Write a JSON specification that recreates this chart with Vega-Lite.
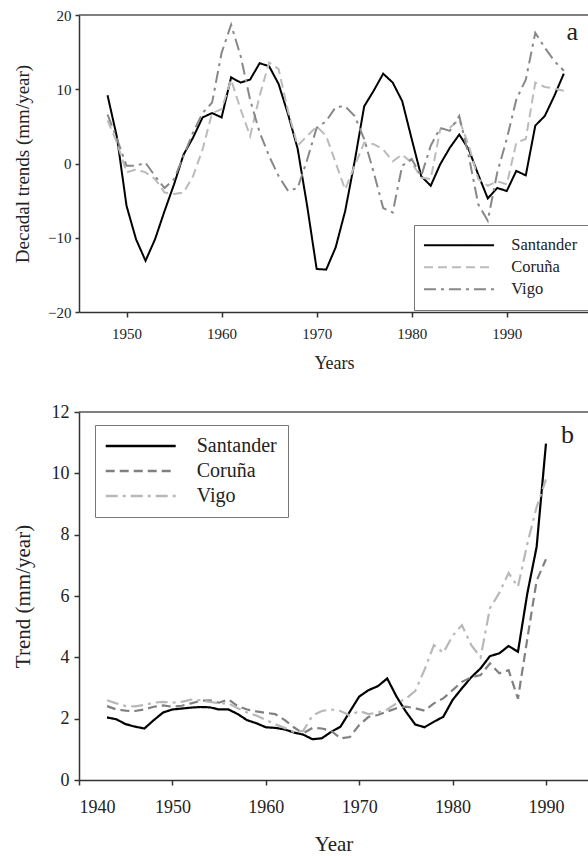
{
  "$schema": "https://vega.github.io/schema/vega-lite/v6.json",
  "background": "white",
  "padding": {"left": 12, "top": 8, "right": 0, "bottom": 0},
  "spacing": 31,
  "config": {
    "view": {"stroke": null},
    "font": "Liberation Serif",
    "style": {"guide-label": {"font": "Liberation Serif"}, "guide-title": {"font": "Liberation Serif"}},
    "axis": {"labelFont": "Liberation Serif", "titleFont": "Liberation Serif", "titleFontWeight": "normal", "labelColor": "#222", "titleColor": "#222", "domainColor": "#333", "tickColor": "#333", "domainWidth": 1.5, "tickWidth": 1.5, "grid": false},
    "legend": {"labelFont": "Liberation Serif", "labelColor": "#222"},
    "text": {"font": "Liberation Serif"}
  },
  "datasets": {
    "decadal": [
      {"year":1948,"station":"Santander","value":9.2},{"year":1949,"station":"Santander","value":3.5},{"year":1950,"station":"Santander","value":-5.7},{"year":1951,"station":"Santander","value":-10.2},{"year":1952,"station":"Santander","value":-13.1},{"year":1953,"station":"Santander","value":-10.2},{"year":1954,"station":"Santander","value":-6.4},{"year":1955,"station":"Santander","value":-2.8},{"year":1956,"station":"Santander","value":1.2},{"year":1957,"station":"Santander","value":3.5},{"year":1958,"station":"Santander","value":6.2},{"year":1959,"station":"Santander","value":6.8},{"year":1960,"station":"Santander","value":6.2},{"year":1961,"station":"Santander","value":11.6},{"year":1962,"station":"Santander","value":10.9},{"year":1963,"station":"Santander","value":11.3},{"year":1964,"station":"Santander","value":13.5},{"year":1965,"station":"Santander","value":13.1},{"year":1966,"station":"Santander","value":10.7},{"year":1967,"station":"Santander","value":6.6},{"year":1968,"station":"Santander","value":2.0},{"year":1969,"station":"Santander","value":-5.7},{"year":1970,"station":"Santander","value":-14.2},{"year":1971,"station":"Santander","value":-14.3},{"year":1972,"station":"Santander","value":-11.3},{"year":1973,"station":"Santander","value":-6.4},{"year":1974,"station":"Santander","value":0.3},{"year":1975,"station":"Santander","value":7.7},{"year":1976,"station":"Santander","value":9.8},{"year":1977,"station":"Santander","value":12.1},{"year":1978,"station":"Santander","value":10.9},{"year":1979,"station":"Santander","value":8.4},{"year":1980,"station":"Santander","value":3.3},{"year":1981,"station":"Santander","value":-1.7},{"year":1982,"station":"Santander","value":-3.0},{"year":1983,"station":"Santander","value":-0.1},{"year":1984,"station":"Santander","value":2.1},{"year":1985,"station":"Santander","value":3.9},{"year":1986,"station":"Santander","value":1.9},{"year":1987,"station":"Santander","value":-1.5},{"year":1988,"station":"Santander","value":-4.7},{"year":1989,"station":"Santander","value":-3.3},{"year":1990,"station":"Santander","value":-3.7},{"year":1991,"station":"Santander","value":-1.0},{"year":1992,"station":"Santander","value":-1.6},{"year":1993,"station":"Santander","value":5.1},{"year":1994,"station":"Santander","value":6.4},{"year":1995,"station":"Santander","value":9.1},{"year":1996,"station":"Santander","value":12.1},
      {"year":1948,"station":"Coruña","value":5.8},{"year":1949,"station":"Coruña","value":2.8},{"year":1950,"station":"Coruña","value":-1.2},{"year":1951,"station":"Coruña","value":-0.8},{"year":1952,"station":"Coruña","value":-1.2},{"year":1953,"station":"Coruña","value":-2.1},{"year":1954,"station":"Coruña","value":-3.9},{"year":1955,"station":"Coruña","value":-4.1},{"year":1956,"station":"Coruña","value":-3.9},{"year":1957,"station":"Coruña","value":-1.7},{"year":1958,"station":"Coruña","value":1.9},{"year":1959,"station":"Coruña","value":6.8},{"year":1960,"station":"Coruña","value":7.3},{"year":1961,"station":"Coruña","value":11.3},{"year":1962,"station":"Coruña","value":7.3},{"year":1963,"station":"Coruña","value":3.7},{"year":1964,"station":"Coruña","value":9.1},{"year":1965,"station":"Coruña","value":13.6},{"year":1966,"station":"Coruña","value":12.7},{"year":1967,"station":"Coruña","value":7.0},{"year":1968,"station":"Coruña","value":2.4},{"year":1969,"station":"Coruña","value":3.7},{"year":1970,"station":"Coruña","value":5.0},{"year":1971,"station":"Coruña","value":3.7},{"year":1972,"station":"Coruña","value":0.1},{"year":1973,"station":"Coruña","value":-3.5},{"year":1974,"station":"Coruña","value":-0.3},{"year":1975,"station":"Coruña","value":2.8},{"year":1976,"station":"Coruña","value":2.6},{"year":1977,"station":"Coruña","value":1.9},{"year":1978,"station":"Coruña","value":0.3},{"year":1979,"station":"Coruña","value":1.2},{"year":1980,"station":"Coruña","value":0.1},{"year":1981,"station":"Coruña","value":-1.9},{"year":1982,"station":"Coruña","value":-2.1},{"year":1983,"station":"Coruña","value":4.6},{"year":1984,"station":"Coruña","value":4.8},{"year":1985,"station":"Coruña","value":5.9},{"year":1986,"station":"Coruña","value":2.4},{"year":1987,"station":"Coruña","value":-2.1},{"year":1988,"station":"Coruña","value":-3.0},{"year":1989,"station":"Coruña","value":-2.4},{"year":1990,"station":"Coruña","value":-2.8},{"year":1991,"station":"Coruña","value":2.8},{"year":1992,"station":"Coruña","value":3.3},{"year":1993,"station":"Coruña","value":10.9},{"year":1994,"station":"Coruña","value":10.3},{"year":1995,"station":"Coruña","value":10.1},{"year":1996,"station":"Coruña","value":9.8},
      {"year":1948,"station":"Vigo","value":6.6},{"year":1949,"station":"Vigo","value":3.3},{"year":1950,"station":"Vigo","value":-0.3},{"year":1951,"station":"Vigo","value":-0.3},{"year":1952,"station":"Vigo","value":0.1},{"year":1953,"station":"Vigo","value":-1.7},{"year":1954,"station":"Vigo","value":-3.3},{"year":1955,"station":"Vigo","value":-2.1},{"year":1956,"station":"Vigo","value":1.0},{"year":1957,"station":"Vigo","value":4.2},{"year":1958,"station":"Vigo","value":6.8},{"year":1959,"station":"Vigo","value":8.2},{"year":1960,"station":"Vigo","value":14.9},{"year":1961,"station":"Vigo","value":18.7},{"year":1962,"station":"Vigo","value":14.5},{"year":1963,"station":"Vigo","value":8.6},{"year":1964,"station":"Vigo","value":4.2},{"year":1965,"station":"Vigo","value":1.0},{"year":1966,"station":"Vigo","value":-1.7},{"year":1967,"station":"Vigo","value":-3.7},{"year":1968,"station":"Vigo","value":-3.3},{"year":1969,"station":"Vigo","value":0.5},{"year":1970,"station":"Vigo","value":4.8},{"year":1971,"station":"Vigo","value":5.7},{"year":1972,"station":"Vigo","value":7.6},{"year":1973,"station":"Vigo","value":7.7},{"year":1974,"station":"Vigo","value":6.4},{"year":1975,"station":"Vigo","value":3.3},{"year":1976,"station":"Vigo","value":-1.2},{"year":1977,"station":"Vigo","value":-6.0},{"year":1978,"station":"Vigo","value":-6.6},{"year":1979,"station":"Vigo","value":-0.3},{"year":1980,"station":"Vigo","value":0.6},{"year":1981,"station":"Vigo","value":-1.7},{"year":1982,"station":"Vigo","value":2.4},{"year":1983,"station":"Vigo","value":4.8},{"year":1984,"station":"Vigo","value":4.4},{"year":1985,"station":"Vigo","value":6.4},{"year":1986,"station":"Vigo","value":1.0},{"year":1987,"station":"Vigo","value":-5.5},{"year":1988,"station":"Vigo","value":-7.7},{"year":1989,"station":"Vigo","value":-1.2},{"year":1990,"station":"Vigo","value":3.3},{"year":1991,"station":"Vigo","value":8.6},{"year":1992,"station":"Vigo","value":11.3},{"year":1993,"station":"Vigo","value":17.6},{"year":1994,"station":"Vigo","value":15.6},{"year":1995,"station":"Vigo","value":13.8},{"year":1996,"station":"Vigo","value":12.5}
    ],
    "trend": [
      {"year":1943,"station":"Santander","value":2.04},{"year":1944,"station":"Santander","value":1.98},{"year":1945,"station":"Santander","value":1.82},{"year":1946,"station":"Santander","value":1.74},{"year":1947,"station":"Santander","value":1.68},{"year":1948,"station":"Santander","value":1.95},{"year":1949,"station":"Santander","value":2.2},{"year":1950,"station":"Santander","value":2.3},{"year":1951,"station":"Santander","value":2.33},{"year":1952,"station":"Santander","value":2.36},{"year":1953,"station":"Santander","value":2.38},{"year":1954,"station":"Santander","value":2.37},{"year":1955,"station":"Santander","value":2.3},{"year":1956,"station":"Santander","value":2.3},{"year":1957,"station":"Santander","value":2.15},{"year":1958,"station":"Santander","value":1.95},{"year":1959,"station":"Santander","value":1.85},{"year":1960,"station":"Santander","value":1.72},{"year":1961,"station":"Santander","value":1.7},{"year":1962,"station":"Santander","value":1.65},{"year":1963,"station":"Santander","value":1.55},{"year":1964,"station":"Santander","value":1.48},{"year":1965,"station":"Santander","value":1.33},{"year":1966,"station":"Santander","value":1.36},{"year":1967,"station":"Santander","value":1.57},{"year":1968,"station":"Santander","value":1.74},{"year":1969,"station":"Santander","value":2.23},{"year":1970,"station":"Santander","value":2.72},{"year":1971,"station":"Santander","value":2.93},{"year":1972,"station":"Santander","value":3.06},{"year":1973,"station":"Santander","value":3.31},{"year":1974,"station":"Santander","value":2.72},{"year":1975,"station":"Santander","value":2.23},{"year":1976,"station":"Santander","value":1.81},{"year":1977,"station":"Santander","value":1.72},{"year":1978,"station":"Santander","value":1.9},{"year":1979,"station":"Santander","value":2.06},{"year":1980,"station":"Santander","value":2.61},{"year":1981,"station":"Santander","value":2.99},{"year":1982,"station":"Santander","value":3.35},{"year":1983,"station":"Santander","value":3.64},{"year":1984,"station":"Santander","value":4.04},{"year":1985,"station":"Santander","value":4.13},{"year":1986,"station":"Santander","value":4.37},{"year":1987,"station":"Santander","value":4.18},{"year":1988,"station":"Santander","value":6.08},{"year":1989,"station":"Santander","value":7.6},{"year":1990,"station":"Santander","value":10.97},
      {"year":1943,"station":"Coruña","value":2.41},{"year":1944,"station":"Coruña","value":2.3},{"year":1945,"station":"Coruña","value":2.26},{"year":1946,"station":"Coruña","value":2.25},{"year":1947,"station":"Coruña","value":2.3},{"year":1948,"station":"Coruña","value":2.39},{"year":1949,"station":"Coruña","value":2.43},{"year":1950,"station":"Coruña","value":2.39},{"year":1951,"station":"Coruña","value":2.42},{"year":1952,"station":"Coruña","value":2.5},{"year":1953,"station":"Coruña","value":2.58},{"year":1954,"station":"Coruña","value":2.6},{"year":1955,"station":"Coruña","value":2.52},{"year":1956,"station":"Coruña","value":2.63},{"year":1957,"station":"Coruña","value":2.41},{"year":1958,"station":"Coruña","value":2.3},{"year":1959,"station":"Coruña","value":2.24},{"year":1960,"station":"Coruña","value":2.19},{"year":1961,"station":"Coruña","value":2.15},{"year":1962,"station":"Coruña","value":1.96},{"year":1963,"station":"Coruña","value":1.72},{"year":1964,"station":"Coruña","value":1.52},{"year":1965,"station":"Coruña","value":1.7},{"year":1966,"station":"Coruña","value":1.68},{"year":1967,"station":"Coruña","value":1.6},{"year":1968,"station":"Coruña","value":1.36},{"year":1969,"station":"Coruña","value":1.4},{"year":1970,"station":"Coruña","value":1.79},{"year":1971,"station":"Coruña","value":2.06},{"year":1972,"station":"Coruña","value":2.12},{"year":1973,"station":"Coruña","value":2.23},{"year":1974,"station":"Coruña","value":2.34},{"year":1975,"station":"Coruña","value":2.39},{"year":1976,"station":"Coruña","value":2.34},{"year":1977,"station":"Coruña","value":2.26},{"year":1978,"station":"Coruña","value":2.5},{"year":1979,"station":"Coruña","value":2.66},{"year":1980,"station":"Coruña","value":2.93},{"year":1981,"station":"Coruña","value":3.2},{"year":1982,"station":"Coruña","value":3.35},{"year":1983,"station":"Coruña","value":3.42},{"year":1984,"station":"Coruña","value":3.8},{"year":1985,"station":"Coruña","value":3.48},{"year":1986,"station":"Coruña","value":3.58},{"year":1987,"station":"Coruña","value":2.65},{"year":1988,"station":"Coruña","value":4.6},{"year":1989,"station":"Coruña","value":6.5},{"year":1990,"station":"Coruña","value":7.2},
      {"year":1943,"station":"Vigo","value":2.6},{"year":1944,"station":"Vigo","value":2.5},{"year":1945,"station":"Vigo","value":2.41},{"year":1946,"station":"Vigo","value":2.4},{"year":1947,"station":"Vigo","value":2.45},{"year":1948,"station":"Vigo","value":2.52},{"year":1949,"station":"Vigo","value":2.55},{"year":1950,"station":"Vigo","value":2.52},{"year":1951,"station":"Vigo","value":2.55},{"year":1952,"station":"Vigo","value":2.62},{"year":1953,"station":"Vigo","value":2.6},{"year":1954,"station":"Vigo","value":2.55},{"year":1955,"station":"Vigo","value":2.5},{"year":1956,"station":"Vigo","value":2.5},{"year":1957,"station":"Vigo","value":2.34},{"year":1958,"station":"Vigo","value":2.2},{"year":1959,"station":"Vigo","value":2.1},{"year":1960,"station":"Vigo","value":1.96},{"year":1961,"station":"Vigo","value":1.82},{"year":1962,"station":"Vigo","value":1.7},{"year":1963,"station":"Vigo","value":1.57},{"year":1964,"station":"Vigo","value":1.6},{"year":1965,"station":"Vigo","value":2.1},{"year":1966,"station":"Vigo","value":2.25},{"year":1967,"station":"Vigo","value":2.3},{"year":1968,"station":"Vigo","value":2.25},{"year":1969,"station":"Vigo","value":2.1},{"year":1970,"station":"Vigo","value":2.25},{"year":1971,"station":"Vigo","value":2.15},{"year":1972,"station":"Vigo","value":2.2},{"year":1973,"station":"Vigo","value":2.3},{"year":1974,"station":"Vigo","value":2.5},{"year":1975,"station":"Vigo","value":2.65},{"year":1976,"station":"Vigo","value":2.9},{"year":1977,"station":"Vigo","value":3.6},{"year":1978,"station":"Vigo","value":4.4},{"year":1979,"station":"Vigo","value":4.15},{"year":1980,"station":"Vigo","value":4.7},{"year":1981,"station":"Vigo","value":5.05},{"year":1982,"station":"Vigo","value":4.4},{"year":1983,"station":"Vigo","value":4.0},{"year":1984,"station":"Vigo","value":5.6},{"year":1985,"station":"Vigo","value":6.1},{"year":1986,"station":"Vigo","value":6.75},{"year":1987,"station":"Vigo","value":6.3},{"year":1988,"station":"Vigo","value":7.7},{"year":1989,"station":"Vigo","value":8.9},{"year":1990,"station":"Vigo","value":9.8}
    ]
  },
  "vconcat": [
    {
      "width": 510,
      "height": 297,
      "layer": [
        {
          "data": {"values": [{}]},
          "mark": {"type": "rule", "color": "#555", "strokeWidth": 1.5},
          "encoding": {"y": {"datum": 20}}
        },
        {
          "data": {"name": "decadal"},
          "mark": {"type": "line", "strokeWidth": 2},
          "encoding": {
            "x": {"field": "year", "type": "quantitative", "scale": {"domain": [1945, 1998.65], "nice": false, "zero": false},
              "axis": {"values": [1950, 1960, 1970, 1980, 1990], "format": "d", "title": "Years", "labelFontSize": 15, "titleFontSize": 18, "tickSize": 5, "labelPadding": 9, "titlePadding": 13}},
            "y": {"field": "value", "type": "quantitative", "scale": {"domain": [-20, 20], "nice": false, "zero": false},
              "axis": {"values": [-20, -10, 0, 10, 20], "title": "Decadal trends (mm/year)", "labelFontSize": 15, "titleFontSize": 19, "tickSize": 4, "labelPadding": 4, "titleX": -47}},
            "color": {"field": "station", "type": "nominal", "scale": {"domain": ["Santander", "Coruña", "Vigo"], "range": ["#000000", "#bbbbbb", "#888888"]},
              "legend": {"title": null, "orient": "none", "legendX": 335, "legendY": 210, "symbolType": "M-7,0H7", "symbolSize": 100, "symbolOffset": 24.7, "symbolStrokeWidth": 2, "labelFont": "Liberation Serif", "labelFontSize": 16.5, "labelOffset": 44, "rowPadding": 5, "padding": 12, "strokeColor": "#777", "fillColor": "white"}},
            "strokeDash": {"field": "station", "type": "nominal", "scale": {"domain": ["Santander", "Coruña", "Vigo"], "range": [[1, 0], [9, 5], [12, 5, 3, 5]]},
              "legend": {"title": null, "orient": "none", "legendX": 335, "legendY": 210, "symbolType": "M-7,0H7", "symbolSize": 100, "symbolOffset": 24.7, "symbolStrokeWidth": 2, "labelFont": "Liberation Serif", "labelFontSize": 16.5, "labelOffset": 44, "rowPadding": 5, "padding": 12, "strokeColor": "#777", "fillColor": "white"}}
          }
        },
        {
          "data": {"values": [{}]},
          "mark": {"type": "text", "text": "a", "fontSize": 26, "font": "Liberation Serif", "color": "#222"},
          "encoding": {"x": {"datum": 1996.9}, "y": {"datum": 17.7}}
        }
      ]
    },
    {
      "width": 509,
      "height": 368,
      "layer": [
        {
          "data": {"values": [{}]},
          "mark": {"type": "rule", "color": "#555", "strokeWidth": 1.5},
          "encoding": {"y": {"datum": 12}}
        },
        {
          "data": {"name": "trend"},
          "mark": {"type": "line", "strokeWidth": 2.2},
          "encoding": {
            "x": {"field": "year", "type": "quantitative", "scale": {"domain": [1940, 1994.5], "nice": false, "zero": false},
              "axis": {"values": [1940, 1950, 1960, 1970, 1980, 1990], "format": "d", "title": "Year", "labelFontSize": 18, "titleFontSize": 21, "tickSize": 5, "labelPadding": 13, "titlePadding": 17}},
            "y": {"field": "value", "type": "quantitative", "scale": {"domain": [0, 12], "nice": false, "zero": false},
              "axis": {"values": [0, 2, 4, 6, 8, 10, 12], "title": "Trend (mm/year)", "labelFontSize": 18, "titleFontSize": 21, "tickSize": 5, "labelPadding": 5, "titleX": -46}},
            "color": {"field": "station", "type": "nominal", "scale": {"domain": ["Santander", "Coruña", "Vigo"], "range": ["#000000", "#808080", "#b8b8b8"]},
              "legend": {"title": null, "orient": "none", "legendX": 16, "legendY": 13, "symbolType": "M-7,0H7", "symbolSize": 100, "symbolOffset": 24.7, "symbolStrokeWidth": 2.5, "labelFont": "Liberation Serif", "labelFontSize": 20, "labelOffset": 46, "rowPadding": 5, "padding": 11, "strokeColor": "#777", "fillColor": "white"}},
            "strokeDash": {"field": "station", "type": "nominal", "scale": {"domain": ["Santander", "Coruña", "Vigo"], "range": [[1, 0], [9, 5], [12, 5, 3, 5]]},
              "legend": {"title": null, "orient": "none", "legendX": 16, "legendY": 13, "symbolType": "M-7,0H7", "symbolSize": 100, "symbolOffset": 24.7, "symbolStrokeWidth": 2.5, "labelFont": "Liberation Serif", "labelFontSize": 20, "labelOffset": 46, "rowPadding": 5, "padding": 11, "strokeColor": "#777", "fillColor": "white"}}
          }
        },
        {
          "data": {"values": [{}]},
          "mark": {"type": "text", "text": "b", "fontSize": 26, "font": "Liberation Serif", "color": "#222"},
          "encoding": {"x": {"datum": 1992.3}, "y": {"datum": 11.24}}
        }
      ]
    }
  ],
  "resolve": {"scale": {"color": "independent", "strokeDash": "independent"}}
}
